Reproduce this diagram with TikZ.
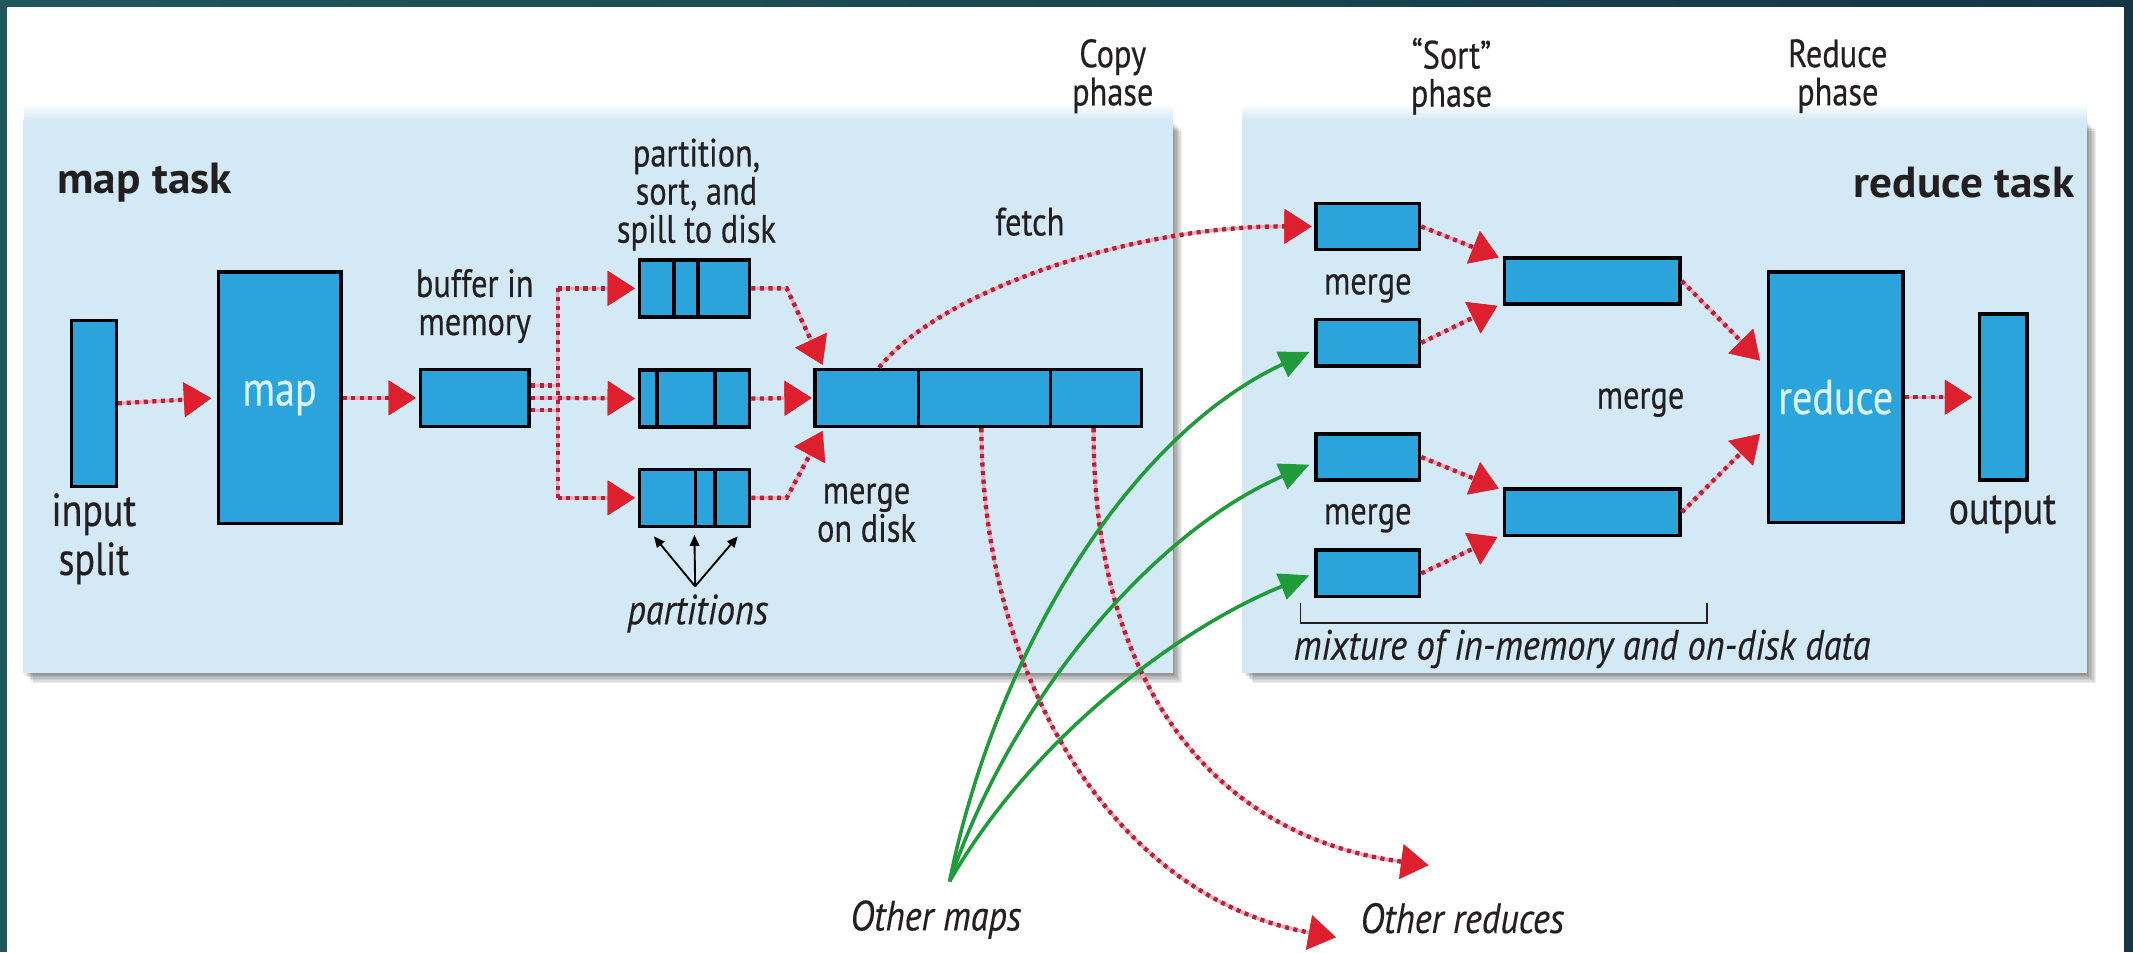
\documentclass[tikz,border=0pt]{standalone}
\usepackage{fontspec}
\newfontfamily\labfam{PT Sans}[FakeStretch=0.82,FakeBold=0.4]
\newfontfamily\italfam{PT Sans}[FakeStretch=0.86,FakeBold=0.3]
\newfontfamily\bigfam{PT Sans}[FakeStretch=0.82,FakeBold=0.4]
\newfontfamily\boldfam{PT Sans}[FakeStretch=1.04]
\usetikzlibrary{arrows.meta,calc}
\definecolor{teal1}{HTML}{1F585B}
\definecolor{navy1}{HTML}{163646}
\definecolor{panel}{HTML}{D3EAF6}
\definecolor{boxblue}{HTML}{2BA3DB}
\definecolor{arrred}{HTML}{DE1F2D}
\definecolor{dotpink}{HTML}{EFA9B6}
\definecolor{dotdark}{HTML}{B32238}
\definecolor{grn}{HTML}{1F9B3A}
\definecolor{txt}{HTML}{231F20}
\definecolor{boxtxt}{HTML}{D6F3FF}
\begin{document}
\begin{tikzpicture}[x=1pt,y=-1pt,
  box/.style={draw=black,line width=2.6pt,fill=boxblue,inner sep=0pt},
  lab/.style={text=txt,font=\labfam\fontsize{29}{28}\selectfont,align=center,inner sep=0pt},
  big/.style={text=txt,font=\bigfam\fontsize{34}{36}\selectfont,align=center,inner sep=0pt},
  ital/.style={text=txt,font=\italfam\itshape\fontsize{31}{26}\selectfont,align=center,inner sep=0pt},
  head/.style={text=txt,font=\boldfam\bfseries\fontsize{32}{32}\selectfont,inner sep=0pt},
  intxt/.style={text=boxtxt,font=\labfam\fontsize{36}{36}\selectfont},
  dots/.style={draw=dotdark,line width=3.2pt,dash pattern=on 3pt off 3.3pt,
    preaction={draw=dotpink,line width=2.4pt,solid}},
  rarr/.style={dots,-{Triangle[length=20pt,width=25pt,color=arrred,fill=arrred]}},
  garr/.style={draw=grn,line width=2.6pt,-{Triangle[length=22pt,width=20pt,color=grn,fill=grn]}},
  blk/.style={draw=black,line width=1.4pt,-{Triangle[length=8pt,width=7pt]}},
  divider/.style={draw=black,line width=2.6pt}
]
\useasboundingbox (0,0) rectangle (1568,700);
\fill[white] (0,0) rectangle (1568,700);
% frame
\fill[teal1] (0,0) rectangle (5,700);
\fill[navy1] (1561,0) rectangle (1568,700);
\shade[left color=teal1,right color=navy1] (0,0) rectangle (1568,5);

% panel shadows and panels
\foreach \i in {1,...,7}{
  \fill[black,opacity=0.07] (17+\i,89+\i) rectangle (862+\i,495+\i);
  \fill[black,opacity=0.07] (914+\i,89+\i) rectangle (1534+\i,495+\i);
}
\shade[top color=white,bottom color=panel] (18,76) rectangle (862,88);
\shade[top color=white,bottom color=panel] (913,76) rectangle (1534,88);
\fill[panel] (17,88) rectangle (862,495);
\fill[panel] (913,88) rectangle (1534,495);

% phase labels
\node[lab] (copyph) at (818,56) {Copy\\phase};
\node[lab] (sortph) at (1067,56) {“Sort”\\phase};
\node[lab] (redph) at (1351,56) {Reduce\\phase};

% headings
\node[head,anchor=west] (maptask) at (42,134) {map task};
\node[head,anchor=east] (redtask) at (1525,134) {reduce task};

% map side boxes
\node[box,minimum width=33,minimum height=122] (split) at (69,296.5) {};
\node[box,minimum width=90,minimum height=185,intxt] (map) at (205.5,292.5) {map};
\node[box,minimum width=80,minimum height=42] (buffer) at (349,292.5) {};
\node[box,minimum width=81,minimum height=42] (part1) at (510.5,212) {};
\node[box,minimum width=81,minimum height=42] (part2) at (510.5,293) {};
\node[box,minimum width=81,minimum height=42] (part3) at (510.5,366) {};
\node[box,minimum width=240,minimum height=42] (merged) at (719,292.5) {};

% dividers
\foreach \b/\f in {part1/0.32,part1/0.53,part2/0.17,part2/0.68,part3/0.51,part3/0.68,merged/0.32,merged/0.72}{
  \draw[divider] ($(\b.north west)!\f!(\b.north east)$) -- ($(\b.south west)!\f!(\b.south east)$);
}

% map side labels
\node[big] (splitlab) at (69,396) {input\\split};
\node[lab] (buflab) at (349,225) {buffer in\\memory};
\node[lab] (partlab) at (512,143) {partition,\\sort, and\\spill to disk};
\node[lab] (fetchlab) at (757,163) {fetch};
\node[lab] (mdisk) at (637,377) {merge\\on disk};
\node[ital] (partslab) at (513,451) {partitions};

% reduce side boxes
\node[box,minimum width=76,minimum height=34] (r1) at (1005.5,166.5) {};
\node[box,minimum width=76,minimum height=34] (r2) at (1005.5,252) {};
\node[box,minimum width=76,minimum height=34] (r3) at (1005.5,336) {};
\node[box,minimum width=76,minimum height=34] (r4) at (1005.5,421.5) {};
\node[box,minimum width=129,minimum height=34] (m1) at (1170.5,206.5) {};
\node[box,minimum width=129,minimum height=34] (m2) at (1170.5,376.5) {};
\node[box,minimum width=99,minimum height=184,intxt] (reduce) at (1349.5,292) {reduce};
\node[box,minimum width=35,minimum height=122] (output) at (1472.5,292) {};

\node[lab] (mg1) at (1005.5,212) {merge};
\node[lab] (mg2) at (1005.5,381) {merge};
\node[lab] (mg3) at (1206,296) {merge};
\node[big] (outlab) at (1472,378) {output};
\node[ital] (mixlab) at (1163,477) {mixture of in-memory and on-disk data};
\draw[line width=1.4pt,draw=txt] (956,443) -- (956,458) -- (1255,458) -- (1255,443);

% bottom labels
\node[ital] (omaps) at (688,676) {Other maps};
\node[ital] (oreds) at (1075,675) {Other reduces};

% coordinates
\coordinate (jt) at (410,212);
\coordinate (jb) at (410,366);
\coordinate (b1) at ($(buffer.east)+(0,-9)$);
\coordinate (b2) at (buffer.east);
\coordinate (b3) at ($(buffer.east)+(0,9)$);
\coordinate (pp) at (511,431);
\coordinate (om) at (698,648);
\coordinate (oa) at (982,689);
\coordinate (ob) at (1050,636);

% map side connectors
\draw[rarr,shorten >=4pt] (split.east) -- (map.west);
\draw[rarr,shorten >=2pt] (map.east) -- (buffer.west);
\draw[dots] (b1) -- (b1 -| jt);
\draw[dots] (b2) -- (b2 -| jt);
\draw[dots] (b3) -- (b3 -| jt);
\draw[dots] (jt) -- (jb);
\draw[rarr,shorten >=2pt] (jt) -- (part1.west);
\draw[rarr,shorten >=2pt] (b2 -| jt) -- (part2.west);
\draw[rarr,shorten >=2pt] (jb) -- (part3.west);
\draw[rarr] (part1.east) -- ++(26,0) -- ($(merged.north west)+(7,-2)$);
\draw[rarr,shorten >=1pt] (part2.east) -- (merged.west);
\draw[rarr] (part3.east) -- ++(26,0) -- ($(merged.south west)+(7,2)$);
\draw[blk] (pp) -- ($(part3.south west)+(12,6)$);
\draw[blk] (pp) -- ($(part3.south)+(0,5)$);
\draw[blk] (pp) -- ($(part3.south east)+(-10,6)$);

% fetch and other reduces
\draw[rarr,shorten >=2pt] ($(merged.north west)!0.2!(merged.north east)$) .. controls (690,215) and (830,166) .. (r1.west);
\draw[rarr] ($(merged.south west)!0.51!(merged.south east)$) .. controls (722,500) and (820,660) .. (oa);
\draw[rarr] ($(merged.south west)!0.85!(merged.south east)$) .. controls (803,500) and (890,615) .. (ob);

% other maps (green)
\draw[garr,shorten >=4pt] (om) .. controls (732,480) and (830,320) .. ($(r2.west)+(0,5)$);
\draw[garr,shorten >=4pt] (om) .. controls (745,510) and (850,390) .. ($(r3.west)+(0,4)$);
\draw[garr,shorten >=4pt] (om) .. controls (760,540) and (870,460) .. (r4.west);

% reduce side connectors
\draw[rarr] (r1.east) -- ($(m1.north west)+(-3,1)$);
\draw[rarr] (r2.east) -- ($(m1.south west)+(-4,0)$);
\draw[rarr] (r3.east) -- ($(m2.north west)+(-3,1)$);
\draw[rarr] (r4.east) -- ($(m2.south west)+(-4,0)$);
\draw[rarr] (m1.east) -- ($(reduce.west)+(-5,-27)$);
\draw[rarr] (m2.east) -- ($(reduce.west)+(-5,27)$);
\draw[rarr,shorten >=4pt] (reduce.east) -- (output.west);
\end{tikzpicture}
\end{document}
